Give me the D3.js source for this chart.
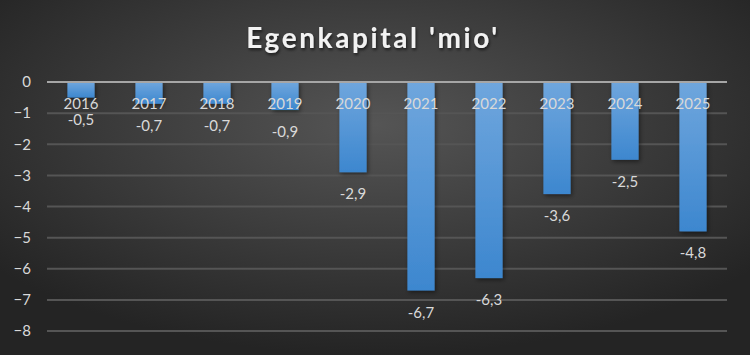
<!DOCTYPE html>
<html>
<head>
<meta charset="utf-8">
<script src="https://cdn.jsdelivr.net/npm/d3@7"></script>
<style>
  html, body { margin: 0; padding: 0; background: #262626; }
  svg { display: block; }
</style>
</head>
<body>
<svg id="chart" width="750" height="355"></svg>
<script>
const years = ["2016", "2017", "2018", "2019", "2020", "2021", "2022", "2023", "2024", "2025"];
const values = [-0.5, -0.7, -0.7, -0.9, -2.9, -6.7, -6.3, -3.6, -2.5, -4.8];
const yTicks = [0, -1, -2, -3, -4, -5, -6, -7, -8];
const title = "Egenkapital 'mio'";

const W = 750, H = 355;
const svg = d3.select("#chart");
const font = "Lato, 'Open Sans', sans-serif";

const defs = svg.append("defs");
// background radial glow
const bg = defs.append("radialGradient").attr("id", "bg")
    .attr("cx", "50%").attr("cy", "35%").attr("r", "65%");
bg.append("stop").attr("offset", "0%").attr("stop-color", "#555555");
bg.append("stop").attr("offset", "100%").attr("stop-color", "#242424");
// bar gradient
const bar = defs.append("linearGradient").attr("id", "bar")
    .attr("x1", 0).attr("y1", 0).attr("x2", 0).attr("y2", 1);
bar.append("stop").attr("offset", "0%").attr("stop-color", "#6fa6dd");
bar.append("stop").attr("offset", "100%").attr("stop-color", "#3d87cf");
// bar shadow
const sh = defs.append("filter").attr("id", "shadow").attr("x", "-30%").attr("y", "-10%").attr("width", "160%").attr("height", "130%");
sh.append("feDropShadow").attr("dx", 1.5).attr("dy", 2).attr("stdDeviation", 2).attr("flood-color", "#000").attr("flood-opacity", 0.45);
const tsh = defs.append("filter").attr("id", "tshadow");
tsh.append("feDropShadow").attr("dx", 1).attr("dy", 2).attr("stdDeviation", 1.5).attr("flood-color", "#000").attr("flood-opacity", 0.6);

svg.append("rect").attr("width", W).attr("height", H).attr("fill", "url(#bg)");

const x = d3.scaleBand().domain(years).range([47, 727]).paddingInner(0.6).paddingOuter(0.3);
const y = d3.scaleLinear().domain([0, -8]).range([82, 331]);

// gridlines
svg.append("g").selectAll("line").data(yTicks.filter(d => d !== 0)).join("line")
    .attr("x1", 47).attr("x2", 727)
    .attr("y1", d => y(d)).attr("y2", d => y(d))
    .attr("stroke", "#555555").attr("stroke-width", 2);

// y axis labels
const yAxis = svg.append("g").attr("transform", "translate(31,0)")
    .call(d3.axisLeft(y).tickValues(yTicks).tickSize(0).tickPadding(0).tickFormat(d3.format("d")));
yAxis.select(".domain").remove();
yAxis.selectAll("text").attr("fill", "#d9d9d9").style("font-family", font).style("font-size", "15px");

// bars
svg.append("g").selectAll("rect").data(values).join("rect")
    .attr("x", (d, i) => x(years[i]))
    .attr("y", y(0))
    .attr("width", x.bandwidth())
    .attr("height", d => y(d) - y(0))
    .attr("fill", "url(#bar)")
    .attr("filter", "url(#shadow)");

// zero line
svg.append("line").attr("x1", 47).attr("x2", 727).attr("y1", y(0)).attr("y2", y(0))
    .attr("stroke", "#a6a6a6").attr("stroke-width", 2);

// category labels along zero line
svg.append("g").selectAll("text").data(years).join("text")
    .attr("x", d => x(d) + x.bandwidth() / 2)
    .attr("y", y(0) + 27)
    .attr("text-anchor", "middle")
    .attr("fill", "#d9d9d9")
    .style("font-family", font).style("font-size", "15px")
    .text(d => d);

// value labels
const fmt = v => d3.format(".1f")(v).replace("−", "-").replace(".", ",");
svg.append("g").selectAll("text").data(values).join("text")
    .attr("x", (d, i) => x(years[i]) + x.bandwidth() / 2)
    .attr("y", d => y(d) + 27)
    .attr("text-anchor", "middle")
    .attr("fill", "#d9d9d9")
    .style("font-family", font).style("font-size", "15px")
    .text(d => fmt(d));

// title
svg.append("text").attr("x", W / 2 - 2).attr("y", 48)
    .attr("text-anchor", "middle")
    .attr("fill", "#f2f2f2")
    .attr("filter", "url(#tshadow)")
    .style("font-family", font).style("font-weight", "bold")
    .style("font-size", "28px").style("letter-spacing", "2.6px")
    .text(title);
</script>
</body>
</html>
